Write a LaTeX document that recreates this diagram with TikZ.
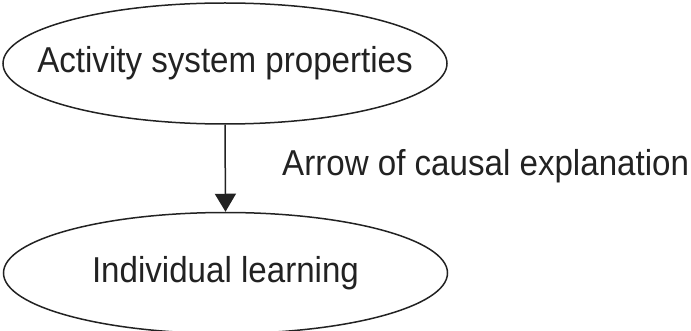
\documentclass[tikz,border=0pt]{standalone}
\usepackage{fontspec}
\setmainfont{Liberation Sans}
\usetikzlibrary{shapes.geometric,arrows.meta}
\definecolor{ink}{HTML}{222222}
\tikzset{
  oval/.style={ellipse, draw=ink, line width=1.5pt, minimum width=444pt,
    minimum height=121pt, inner sep=0pt},
  lbl/.style={text=ink, font=\fontsize{36}{40}\selectfont, inner sep=0pt},
  causal/.style={draw=ink, line width=1.5pt, -{Triangle[width=21pt,length=18pt]}}
}
\newcommand{\narrow}[1]{\scalebox{0.92}[1]{#1}}
\begin{document}
\begin{tikzpicture}[x=1pt,y=1pt]
  \useasboundingbox (0,0) rectangle (691,-331);
  \node[oval] (sys) at (225,-63.5) {};
  \node[lbl] (syst) at (225,-63.5) {\narrow{Activity system properties}};
  \node[oval] (ind) at (225.5,-273) {};
  \node[lbl] (indt) at (225.5,-273) {\narrow{Individual learning}};
  \draw[causal] (sys.south) -- (ind.north);
  \node[lbl, anchor=base west] (cause) at (282,-176) {\narrow{Arrow of causal explanation}};
\end{tikzpicture}
\end{document}
